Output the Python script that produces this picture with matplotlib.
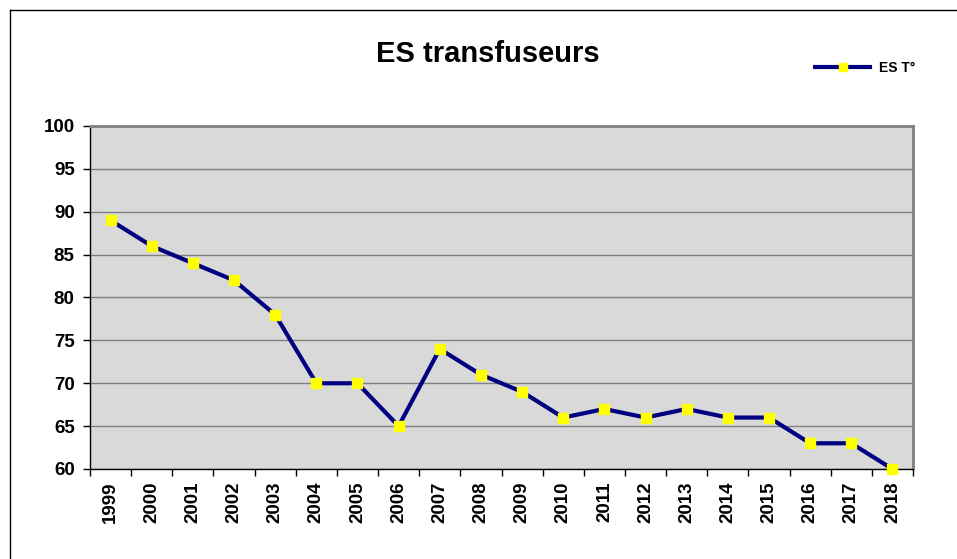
import matplotlib
matplotlib.use("Agg")
import matplotlib.pyplot as plt
from matplotlib.lines import Line2D

years = ["1999", "2000", "2001", "2002", "2003", "2004", "2005", "2006", "2007", "2008",
         "2009", "2010", "2011", "2012", "2013", "2014", "2015", "2016", "2017", "2018"]
es_t = [89, 86, 84, 82, 78, 70, 70, 65, 74, 71, 69, 66, 67, 66, 67, 66, 66, 63, 63, 60]
yticks = [60, 65, 70, 75, 80, 85, 90, 95, 100]

plt.rcParams['font.family'] = ['Liberation Sans', 'DejaVu Sans']
fig = plt.figure(figsize=(9.57, 5.59), dpi=100)
ax = fig.add_axes([90/957, 1-469/559, (913-90)/957, (469-126)/559])
ax.set_facecolor('#d9d9d9')

x = list(range(len(years)))
line, = ax.plot(x, es_t, color='#000080', lw=3, marker='s', markersize=7.5,
                markerfacecolor='#ffff00', markeredgecolor='#ffff00', clip_on=False, zorder=5)

ax.set_xlim(-0.5, len(years) - 0.5)
ax.set_ylim(60, 100)
ax.set_yticks(yticks)
ax.set_yticklabels([str(v) for v in yticks], fontsize=13.5, fontweight='bold')
ax.set_xticks(x)
ax.set_xticklabels(years, rotation=90, fontsize=13.5, fontweight='bold')
ax.set_xticks([i - 0.5 for i in range(len(years) + 1)], minor=True)
ax.tick_params(axis='x', which='major', length=0, pad=9)
ax.tick_params(axis='x', which='minor', length=5, width=1, direction='out', color='black')
ax.tick_params(axis='y', length=5, width=1, direction='out', color='black', pad=6)
ax.grid(axis='y', color='#808080', lw=1)
ax.set_axisbelow(True)
for s in ['top', 'right']:
    ax.spines[s].set_color('#808080')
    ax.spines[s].set_linewidth(2)
ax.spines['left'].set_color('black')
ax.spines['bottom'].set_color('black')
ax.spines['left'].set_linewidth(1)
ax.spines['bottom'].set_linewidth(1)

fig.text(488/957, 1-54/559, "ES transfuseurs", ha='center', va='center',
         fontsize=21, fontweight='bold')

# legend
fig.legend([line], ["ES T°"], loc='center', bbox_to_anchor=(865/957, 1-68/559),
           frameon=False, prop={'weight': 'bold', 'size': 10},
           handlelength=4, handletextpad=0.6, markerscale=0.75)

# outer frame
fig.add_artist(Line2D([10/957, 10/957], [0, 1-10/559], color='black', lw=1, transform=fig.transFigure))
fig.add_artist(Line2D([10/957, 1], [1-10/559, 1-10/559], color='black', lw=1, transform=fig.transFigure))

fig.savefig("out.png", dpi=100)
